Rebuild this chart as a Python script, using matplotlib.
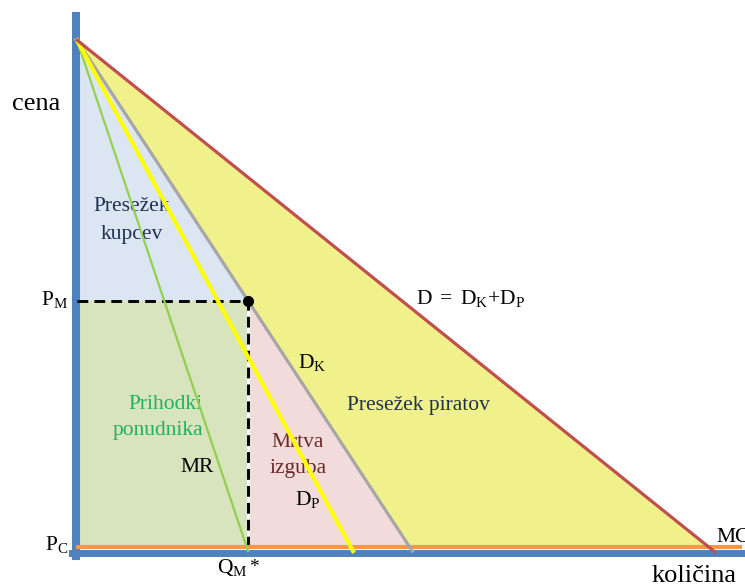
import matplotlib
matplotlib.use("Agg")
import matplotlib.pyplot as plt
import numpy as np

plt.rcParams["font.family"] = ["Liberation Serif", "DejaVu Serif"]
plt.rcParams["mathtext.fontset"] = "custom"
plt.rcParams["mathtext.rm"] = "Liberation Serif"
plt.rcParams["mathtext.it"] = "Liberation Serif:italic"
plt.rcParams["mathtext.bf"] = "Liberation Serif:bold"
plt.rcParams["mathtext.default"] = "rm"

# Model values (price axis 0..10, quantity axis in the same units)
p_max = 10.0          # choke price shared by all demand curves
p_c = 0.0             # competitive price = marginal cost
q_d_total = 18.8      # D = D_K + D_P, quantity at P_C
q_d_k = 9.9           # D_K (buyers), quantity at P_C
q_d_p = 8.15          # D_P (pirates), quantity at P_C
q_mr = 5.05           # MR intercept
q_m = 5.1             # monopoly quantity Q_M*
p_m = 4.85            # monopoly price P_M

# Colours
c_axis = "#4F81BD"
c_d = "#C0504D"
c_dk = "#A6A6A6"
c_dp = "#FFFF00"
c_mr = "#92D050"
c_mc = "#F79646"
f_cs = "#DCE6F2"
f_rev = "#D7E4BD"
f_dwl = "#F2DCDB"
f_pir = "#F1F18C"
t_navy = "#1F3051"
t_green = "#1DB45A"
t_red = "#6B2A28"

fig = plt.figure(figsize=(7.45, 5.86), dpi=100)
ax = fig.add_axes([0, 0, 1, 1])
ax.set_xlim(-2.29, 19.88)
ax.set_ylim(-0.77, 10.79)
ax.set_xticks([])
ax.set_yticks([])
for s in ("top", "right"):
    ax.spines[s].set_visible(False)

# thick blue axes
ax.spines["left"].set_position(("data", -0.03))
ax.spines["left"].set_bounds(-0.18, 10.47)
ax.spines["left"].set_linewidth(5.8)
ax.spines["left"].set_color(c_axis)
ax.spines["bottom"].set_position(("data", -0.11))
ax.spines["bottom"].set_bounds(-0.15, 19.9)
ax.spines["bottom"].set_linewidth(5.0)
ax.spines["bottom"].set_color(c_axis)
ax.spines["left"].set_zorder(1.5)
ax.spines["bottom"].set_zorder(1.5)


def demand_q(q0, p):
    return q0 * (1 - p / p_max)


# shaded areas
ax.fill([0, q_m, 0], [p_max, p_m, p_m], color=f_cs, lw=0, zorder=1)
ax.fill([0, q_m, q_m, 0], [0, 0, p_m, p_m], color=f_rev, lw=0, zorder=1)
ax.fill([q_m, q_d_k, q_m], [p_m, p_c, p_c], color=f_dwl, lw=0, zorder=1)
ax.fill([0, q_d_total, q_d_k], [p_max, p_c, p_c], color=f_pir, lw=0, zorder=1)

# monopoly price / quantity guides
dash = (0, (3.7, 2.1))
ax.plot([q_m, q_m], [p_c, p_m], color="white", lw=2.2, zorder=2)
ax.plot([0, q_m], [p_m, p_m], color="black", lw=2.1, ls=dash, zorder=2)
ax.plot([q_m, q_m], [p_c, p_m], color="black", lw=2.1, ls=dash, zorder=2)

# curves
p_end = -0.08
p_line = np.array([p_max, p_end])
ax.plot([-0.03, 19.8], [p_c, p_c], color=c_mc, lw=3.0, zorder=3,
        solid_capstyle="butt")
ax.plot(demand_q(q_mr, p_line), p_line, color=c_mr, lw=1.6, zorder=4)
ax.plot(demand_q(q_d_k, p_line), p_line, color=c_dk, lw=2.3, zorder=4)
ax.plot(demand_q(q_d_p, p_line), p_line, color=c_dp, lw=3.0, zorder=5)
ax.plot(demand_q(q_d_total, np.array([p_max, -0.1])), [p_max, -0.1],
        color=c_d, lw=2.3, zorder=5)
ax.plot([q_m], [p_m], "o", color="black", ms=7, zorder=6)

# axis labels
ax.text(-1.22, 8.74, "cena", fontsize=19, ha="center", va="center")
ax.text(17.11, -0.69, "količina", fontsize=19, ha="left", va="baseline")
ax.text(-0.27, 4.77, r"$\mathrm{P_M}$", fontsize=15.5, ha="right", va="baseline")
ax.text(-0.27, -0.06, r"$\mathrm{P_C}$", fontsize=15.5, ha="right", va="baseline")
ax.text(4.17, -0.51, r"$\mathrm{Q_M}$", fontsize=15.5, ha="left", va="baseline")
ax.text(5.12, -0.49, "*", fontsize=14, ha="left", va="baseline")
ax.text(19.02, 0.10, "MC", fontsize=15.5, ha="left", va="baseline")

# curve labels
ax.text(10.09, 4.79, r"$\mathrm{D\ =\ D_K{+}D_P}$", fontsize=15.5, ha="left",
        va="baseline")
ax.text(6.58, 3.53, r"$\mathrm{D_K}$", fontsize=15.5, ha="left", va="baseline")
ax.text(6.49, 0.83, r"$\mathrm{D_P}$", fontsize=15.5, ha="left", va="baseline")
ax.text(3.07, 1.48, "MR", fontsize=15.5, ha="left", va="baseline")

# area labels (two-line blocks set line by line)
for txt, x, y, col, ha in [
    ("Presežek", 1.64, 6.62, t_navy, "center"),
    ("kupcev", 1.64, 6.08, t_navy, "center"),
    ("Prihodki", 3.75, 2.72, t_green, "right"),
    ("ponudnika", 3.75, 2.20, t_green, "right"),
    ("Mrtva", 6.58, 1.97, t_red, "center"),
    ("izguba", 6.58, 1.45, t_red, "center"),
]:
    ax.text(x, y, txt, fontsize=15.5, color=col, ha=ha, va="baseline")
ax.text(8.04, 2.70, "Presežek piratov", fontsize=15.5, color=t_navy,
        ha="left", va="baseline")

fig.savefig("out.png", dpi=100)
